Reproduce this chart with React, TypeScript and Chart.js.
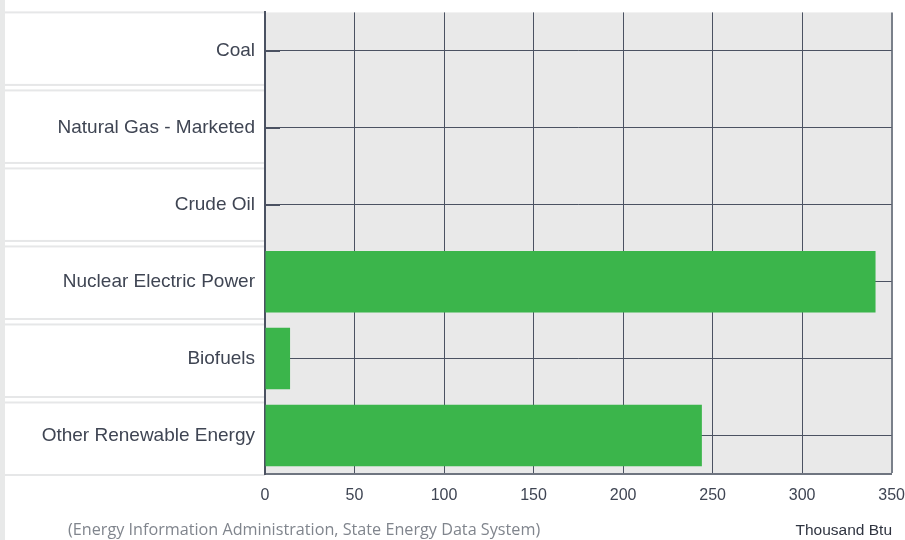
import React, { useEffect, useRef } from "react";
import { Chart, registerables } from "chart.js";

Chart.register(...registerables);

const categories = [
  "Coal",
  "Natural Gas - Marketed",
  "Crude Oil",
  "Nuclear Electric Power",
  "Biofuels",
  "Other Renewable Energy",
];
const values = [0, 0, 0, 341, 14, 244];
const xTickValues = [0, 50, 100, 150, 200, 250, 300, 350];
const sourceText = "(Energy Information Administration, State Energy Data System)";
const unitText = "Thousand Btu";

const GRID = "#4b5262";
const TEXT = "#3f4553";

const SHIFT_Y = 9;
const EXTRA_W = 12;

const panelPlugin = {
  id: "panelPlugin",
  beforeDraw(chart: any) {
    const { ctx, chartArea } = chart;
    const { left, top, right, bottom } = chartArea;
    ctx.save();
    ctx.fillStyle = "#ffffff";
    ctx.fillRect(0, 0, chart.width, chart.height);
    ctx.fillStyle = "#e8e9e9";
    ctx.fillRect(0, 0, 5, chart.height);
    const gap = 6.5;
    const period = (bottom - top + gap) / categories.length;
    ctx.fillStyle = "#e6e7e8";
    for (let i = 0; i < categories.length; i++) {
      const t = top + i * period;
      const b = t + period - gap;
      ctx.fillRect(5, t - 1, left - 5, 2);
      ctx.fillRect(5, b, left - 5, 2);
    }
    ctx.fillStyle = "#e9e9e9";
    ctx.fillRect(left, top, right - left, bottom - top);
    ctx.restore();
  },
  beforeDatasetsDraw(chart: any) {
    const { ctx, chartArea, scales } = chart;
    ctx.save();
    ctx.strokeStyle = GRID;
    ctx.lineWidth = 2;
    for (let i = 0; i < categories.length; i++) {
      const y = Math.round(scales.y.getPixelForValue(i));
      ctx.beginPath();
      ctx.moveTo(chartArea.left, y);
      ctx.lineTo(chartArea.left + 15, y);
      ctx.stroke();
    }
    ctx.restore();
  },
};

export default function App() {
  const ref = useRef<HTMLCanvasElement | null>(null);
  useEffect(() => {
    document.body.style.margin = "0";
    const chart = new Chart(ref.current as HTMLCanvasElement, {
      type: "bar",
      data: {
        labels: categories,
        datasets: [
          {
            data: values,
            backgroundColor: "#3bb54b",
            borderWidth: 0,
            categoryPercentage: 0.8,
            barPercentage: 1,
          },
        ],
      },
      options: {
        indexAxis: "y",
        animation: false,
        responsive: false,
        maintainAspectRatio: false,
        layout: { padding: { top: 0, right: 2, left: 0, bottom: 0 } },
        plugins: { legend: { display: false }, tooltip: { enabled: false } },
        scales: {
          x: {
            min: 0,
            max: 350,
            afterBuildTicks: (scale: any) => {
              scale.ticks = xTickValues.map((v) => ({ value: v }));
            },
            afterFit: (scale: any) => {
              scale.height = 66;
            },
            ticks: {
              color: TEXT,
              padding: 12,
              font: { family: "Liberation Sans", size: 16 },
              maxRotation: 0,
            },
            grid: {
              drawTicks: false,
              color: (c: any) => (c.tick && c.tick.value === 350 ? "#7a808a" : GRID),
              lineWidth: (c: any) => (c.tick && c.tick.value === 350 ? 2 : 1),
            },
            border: { display: true, color: "#6f7580", width: 2 },
          },
          y: {
            afterFit: (scale: any) => {
              scale.width = 265;
            },
            ticks: {
              color: TEXT,
              padding: 10,
              font: { family: "Liberation Sans", size: 19 },
            },
            grid: {
              offset: false,
              drawTicks: false,
              color: GRID,
              lineWidth: 1,
            },
            border: { display: true, color: GRID, width: 2 },
          },
        },
      },
      plugins: [panelPlugin],
    } as any);
    return () => chart.destroy();
  }, []);

  return (
    <div style={{ position: "relative", width: 905, height: 540, overflow: "hidden", background: "#ffffff" }}>
      <canvas
        ref={ref}
        width={905 + EXTRA_W}
        height={540 + SHIFT_Y}
        style={{ display: "block", position: "absolute", left: 0, top: -SHIFT_Y }}
      />
      <div
        style={{
          position: "absolute",
          left: 68,
          top: 518,
          fontFamily: "'Open Sans', sans-serif",
          fontSize: 16.2,
          color: "#80858d",
          whiteSpace: "nowrap",
        }}
      >
        {sourceText}
      </div>
      <div
        style={{
          position: "absolute",
          right: 13,
          top: 521,
          fontFamily: "'Liberation Sans', sans-serif",
          fontSize: 15.5,
          color: "#2f3440",
          whiteSpace: "nowrap",
        }}
      >
        {unitText}
      </div>
    </div>
  );
}
